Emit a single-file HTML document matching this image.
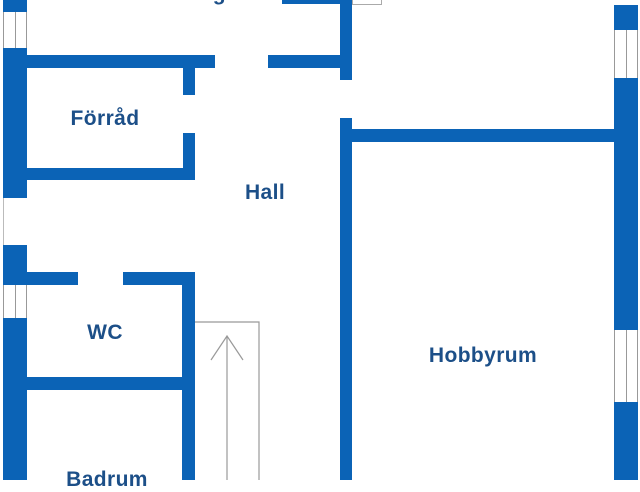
<!DOCTYPE html>
<html><head><meta charset="utf-8"><style>
body{margin:0;width:640px;height:480px;overflow:hidden;background:#fff;position:relative;font-family:"Liberation Sans",sans-serif}
.w{position:absolute;background:#0b63b6}
.win{position:absolute;background:#fff;border-left:1px solid #999;border-right:1px solid #999}
.win:after{content:"";position:absolute;left:50%;top:0;bottom:0;border-left:1px solid #999}
.t{position:absolute;color:#1c4f88;font-weight:bold;font-size:21px;letter-spacing:0.4px;transform:translate(-50%,-50%);white-space:nowrap}
</style></head><body>
<div style="position:absolute;left:3px;top:0;width:1px;height:480px;background:#bbb"></div>
<div class="w" style="left:3px;top:0;width:24px;height:12px"></div>
<div class="win" style="left:3px;top:12px;width:22px;height:36px"></div>
<div class="w" style="left:3px;top:48px;width:24px;height:150px"></div>
<div class="w" style="left:3px;top:245px;width:24px;height:40px"></div>
<div class="win" style="left:3px;top:285px;width:22px;height:33px"></div>
<div class="w" style="left:3px;top:318px;width:24px;height:162px"></div>
<div class="w" style="left:27px;top:55px;width:188px;height:13px"></div>
<div class="w" style="left:183px;top:68px;width:12px;height:27px"></div>
<div class="w" style="left:183px;top:133px;width:12px;height:47px"></div>
<div class="w" style="left:27px;top:168px;width:168px;height:12px"></div>
<div class="w" style="left:268px;top:55px;width:82px;height:13px"></div>
<div class="w" style="left:340px;top:0;width:12px;height:80px"></div>
<div class="w" style="left:282px;top:0;width:58px;height:4px"></div>
<div style="position:absolute;left:352px;top:-1px;width:28px;height:4px;border:1px solid #aaa"></div>
<div class="w" style="left:340px;top:118px;width:12px;height:362px"></div>
<div class="w" style="left:352px;top:129px;width:262px;height:13px"></div>
<div class="w" style="left:614px;top:5px;width:24px;height:25px"></div>
<div class="win" style="left:614px;top:30px;width:22px;height:48px"></div>
<div class="w" style="left:614px;top:78px;width:24px;height:252px"></div>
<div class="win" style="left:614px;top:330px;width:22px;height:72px"></div>
<div class="w" style="left:614px;top:402px;width:24px;height:78px"></div>
<div class="w" style="left:27px;top:272px;width:51px;height:13px"></div>
<div class="w" style="left:123px;top:272px;width:72px;height:13px"></div>
<div class="w" style="left:182px;top:272px;width:13px;height:208px"></div>
<div class="w" style="left:27px;top:377px;width:155px;height:13px"></div>
<svg style="position:absolute;left:0;top:0" width="640" height="480">
<polyline points="195,322 259,322 259,480" fill="none" stroke="#999" stroke-width="1.2"/>
<line x1="227" y1="336" x2="227" y2="480" stroke="#999" stroke-width="1.2"/>
<polyline points="211,360 227,336 243,360" fill="none" stroke="#999" stroke-width="1.2"/>
</svg>
<div class="t" style="left:183px;top:-6px">Tvättstuga</div>
<div class="t" style="left:105px;top:119px">Förråd</div>
<div class="t" style="left:265px;top:193px">Hall</div>
<div class="t" style="left:105px;top:333px">WC</div>
<div class="t" style="left:483px;top:356px">Hobbyrum</div>
<div class="t" style="left:107px;top:480px">Badrum</div>
</body></html>
